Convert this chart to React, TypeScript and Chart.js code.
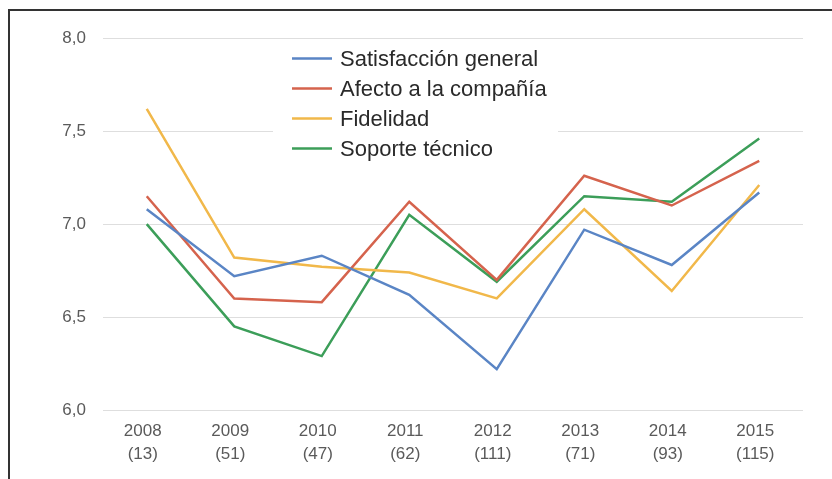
import React, { useEffect, useRef } from "react";
import { Chart, registerables } from "chart.js";

Chart.register(...registerables);

const years = ["2008", "2009", "2010", "2011", "2012", "2013", "2014", "2015"];
const counts = ["(13)", "(51)", "(47)", "(62)", "(111)", "(71)", "(93)", "(115)"];

const seriesNames = [
  "Satisfacción general",
  "Afecto a la compañía",
  "Fidelidad",
  "Soporte técnico",
];

const satisfaccion = [7.08, 6.72, 6.83, 6.62, 6.22, 6.97, 6.78, 7.17];
const afecto = [7.15, 6.60, 6.58, 7.12, 6.70, 7.26, 7.10, 7.34];
const fidelidad = [7.62, 6.82, 6.77, 6.74, 6.60, 7.08, 6.64, 7.21];
const soporte = [7.00, 6.45, 6.29, 7.05, 6.69, 7.15, 7.12, 7.46];

const yTicks = [6.0, 6.5, 7.0, 7.5, 8.0];

const colors = ["#5a85c5", "#d5634d", "#f1b84a", "#3c9e59"];

const FONT = "'Liberation Sans', Arial, sans-serif";

const legendPlugin = {
  id: "insideLegend",
  afterDraw(chart: any) {
    const ctx = chart.ctx;
    ctx.save();
    ctx.fillStyle = "#ffffff";
    ctx.fillRect(263, 28, 285, 126);
    const ds = chart.data.datasets;
    ds.forEach((d: any, i: number) => {
      const y = 47.5 + i * 30;
      ctx.strokeStyle = d.borderColor;
      ctx.lineWidth = 2.5;
      ctx.beginPath();
      ctx.moveTo(282, y);
      ctx.lineTo(322, y);
      ctx.stroke();
      ctx.fillStyle = "#2a2a2a";
      ctx.font = `22px ${FONT}`;
      ctx.textBaseline = "middle";
      ctx.textAlign = "left";
      ctx.fillText(d.label, 330, y + 1);
    });
    ctx.restore();
  },
};

export default function App() {
  const ref = useRef<HTMLCanvasElement>(null);

  useEffect(() => {
    if (!ref.current) return;
    const series = [satisfaccion, afecto, fidelidad, soporte];
    const chart = new Chart(ref.current, {
      type: "line",
      data: {
        labels: years.map((y, i) => [y, counts[i]]),
        datasets: series.map((s, i) => ({
          label: seriesNames[i],
          data: s,
          borderColor: colors[i],
          backgroundColor: colors[i],
          borderWidth: 2.5,
          pointRadius: 0,
          tension: 0,
          fill: false,
        })),
      },
      options: {
        responsive: false,
        animation: false,
        layout: { padding: { top: 24, right: 29, left: 0, bottom: 0 } },
        plugins: {
          legend: { display: false },
          tooltip: { enabled: false },
        },
        scales: {
          x: {
            offset: true,
            grid: { display: false, drawTicks: false },
            border: { display: false },
            ticks: {
              color: "#5a5a5a",
              font: { family: FONT, size: 17, lineHeight: 1.35 },
              padding: 10,
              labelOffset: -4,
              maxRotation: 0,
              autoSkip: false,
            },
            afterFit: (s: any) => {
              s.height = 69;
            },
          },
          y: {
            min: 6,
            max: 8,
            afterBuildTicks: (s: any) => {
              s.ticks = yTicks.map((v) => ({ value: v }));
            },
            grid: { color: "#dedede", lineWidth: 1, drawTicks: false },
            border: { display: false },
            ticks: {
              color: "#5a5a5a",
              font: { family: FONT, size: 17 },
              padding: 17,
              callback: (v: any) => Number(v).toFixed(1).replace(".", ","),
            },
            afterFit: (s: any) => {
              s.width = 93;
            },
          },
        },
      },
      plugins: [legendPlugin],
    });
    return () => chart.destroy();
  }, []);

  return (
    <div
      style={{
        position: "absolute",
        left: 8,
        top: 9,
        width: 822,
        height: 468,
        borderLeft: "2px solid #333",
        borderTop: "2px solid #333",
        background: "#fff",
        overflow: "hidden",
      }}
    >
      <canvas ref={ref} width={822} height={468} style={{ display: "block" }} />
    </div>
  );
}
